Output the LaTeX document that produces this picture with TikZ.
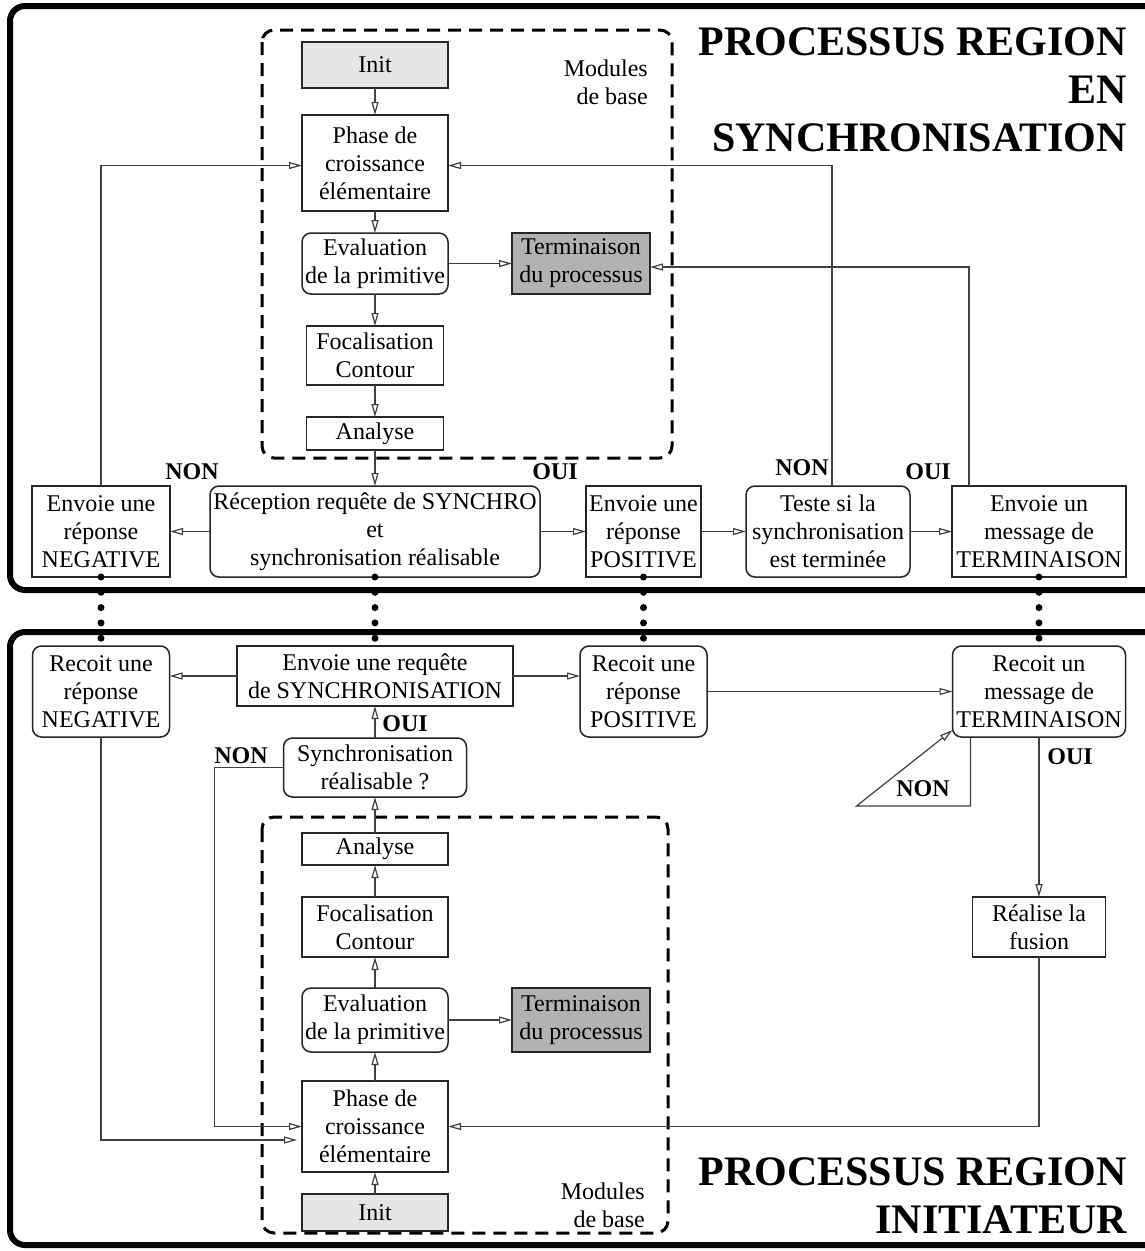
\documentclass[tikz,border=0pt]{standalone}
\usepackage{fontspec}
\setmainfont{Liberation Serif}
\usetikzlibrary{positioning, arrows.meta}
\tikzset{
    caja/.style={rectangle, draw=black!85, line width=1.5pt, align=center, inner sep=1pt, outer sep=0pt, minimum width=146pt, font=\fontsize{24}{28}\selectfont},
    caja_red/.style={caja, rounded corners=9pt},
    caja_init/.style={caja, fill=gray!20},
    caja_fin/.style={caja, fill=black!30, minimum width=138pt},
    marco/.style={line width=6pt, rounded corners=15pt},
    zona/.style={line width=3pt, dash pattern=on 13pt off 8pt, rounded corners=12pt},
    flecha/.style={draw=black!75, line width=1.2pt, -{Triangle[open, length=13pt, width=7pt]}},
    enlace/.style={line width=7pt, line cap=round, dash pattern=on 0pt off 15.3pt},
    etiqueta/.style={font=\bfseries\fontsize{24}{28}\selectfont, inner sep=0pt},
    titulo/.style={font=\bfseries\fontsize{42}{48}\selectfont, align=right, inner sep=0pt, anchor=north east},
    nota/.style={font=\fontsize{24}{28}\selectfont, align=right, inner sep=0pt, anchor=north east}
}
\begin{document}
\begin{tikzpicture}[x=1pt, y=-1pt]
    \useasboundingbox (0,0) rectangle (1145,1251);
    \fill[white] (0,0) rectangle (1145,1251);
    \clip (0,0) rectangle (1145,1251);

    % Cadres des deux processus
    \draw[marco] (10,6) rectangle (1175,590);
    \draw[marco] (10,632) rectangle (1175,1245);
    % Modules de base (pointilles)
    \draw[zona] (262,30) rectangle (672,458);
    \draw[zona] (262,817) rectangle (668,1233);

    % Titres
    \node[titulo] (titre_sync) at (1127,27) {PROCESSUS REGION\\EN\\SYNCHRONISATION};
    \node[titulo] (titre_init) at (1127,1157) {PROCESSUS REGION\\INITIATEUR};
    \node[nota] (mod_sync) at (648,59.5) {Modules\\de base};
    \node[nota] (mod_init) at (645,1182.5) {Modules\\de base};

    % 1. Processus region en synchronisation
    \node[caja_init, minimum height=46pt] (init1) at (375,65) {Init};
    \node[caja, minimum height=96pt, below=27pt of init1] (phase1) {Phase de\\croissance\\élémentaire};
    \node[caja_red, minimum height=61pt, below=22pt of phase1] (eval1) {Evaluation\\de la primitive};
    \node[caja_fin, minimum height=61pt, right=64pt of eval1] (term1) {Terminaison\\du processus};
    \node[caja, minimum width=137pt, minimum height=59pt, below=32pt of eval1] (foc1) {Focalisation\\Contour};
    \node[caja, minimum width=137pt, minimum height=33pt, below=32pt of foc1] (ana1) {Analyse};

    % Rangee du milieu
    \node[caja_red, minimum width=330pt, minimum height=91pt] (recep) at (375,531.5) {Réception requête de SYNCHRO\\et\\synchronisation réalisable};
    \node[caja, minimum width=138pt, minimum height=91pt, left=40pt of recep] (negS) {Envoie une\\réponse\\NEGATIVE};
    \node[caja, minimum width=115pt, minimum height=91pt, right=46pt of recep] (posS) {Envoie une\\réponse\\POSITIVE};
    \node[caja_red, minimum width=164pt, minimum height=91pt, right=45pt of posS] (teste) {Teste si la\\synchronisation\\est terminée};
    \node[caja, minimum width=174pt, minimum height=91pt, right=42pt of teste] (termS) {Envoie un\\message de\\TERMINAISON};

    % 2. Processus region initiateur
    \node[caja_red, minimum width=137pt, minimum height=91pt, below=69pt of negS] (negR) {Recoit une\\réponse\\NEGATIVE};
    \node[caja_red, minimum width=127pt, minimum height=91pt, below=69pt of posS] (posR) {Recoit une\\réponse\\POSITIVE};
    \node[caja_red, minimum width=173pt, minimum height=91pt, below=69pt of termS] (termR) {Recoit un\\message de\\TERMINAISON};
    \node[caja, minimum width=133pt, minimum height=60pt, below=160pt of termR] (fusion) {Réalise la\\fusion};

    \node[caja_init, minimum height=37pt] (init2) at (375,1212.5) {Init};
    \node[caja, minimum height=91pt, above=22pt of init2] (phase2) {Phase de\\croissance\\élémentaire};
    \node[caja_red, minimum height=64pt, above=29pt of phase2] (eval2) {Evaluation\\de la primitive};
    \node[caja_fin, minimum height=64pt, right=64pt of eval2] (term2) {Terminaison\\du processus};
    \node[caja, minimum height=60pt, above=31pt of eval2] (foc2) {Focalisation\\Contour};
    \node[caja, minimum height=32pt, above=32pt of foc2] (ana2) {Analyse};
    \node[caja_red, minimum width=183pt, minimum height=59pt, above=36pt of ana2] (sync) {Synchronisation\\réalisable ?};
    \node[caja, minimum width=276pt, minimum height=60pt, above=32pt of sync] (envReq) {Envoie une requête\\de SYNCHRONISATION};

    % Etiquettes
    \node[etiqueta] (non1) at (192,472) {NON};
    \node[etiqueta] (oui1) at (555,472) {OUI};
    \node[etiqueta] (non2) at (802,468) {NON};
    \node[etiqueta] (oui2) at (928,472) {OUI};
    \node[etiqueta] (oui3) at (405,724) {OUI};
    \node[etiqueta] (non3) at (241,756) {NON};
    \node[etiqueta] (oui4) at (1070,757) {OUI};
    \node[etiqueta] (non4) at (923,789) {NON};

    % --- CONNEXIONS (haut) ---
    \draw[flecha] (init1) -- (phase1);
    \draw[flecha] (phase1) -- (eval1);
    \draw[flecha] (eval1) -- (foc1);
    \draw[flecha] (foc1) -- (ana1);
    \draw[flecha] (eval1) -- (term1);
    \draw[flecha] (ana1.south) -- (recep.north);
    \draw[flecha] (recep) -- (negS);
    \draw[flecha] (recep) -- (posS);
    \draw[flecha] (posS) -- (teste);
    \draw[flecha] (teste) -- (termS);
    \draw[flecha] (negS.north) |- ([yshift=-2.5pt]phase1.west);
    \draw[flecha] ([xshift=4pt]teste.north) |- ([yshift=-2.5pt]phase1.east);
    \draw[flecha] ([xshift=17pt]termS.north west) |- ([yshift=-3.5pt]term1.east);

    % --- CONNEXIONS (bas) ---
    \draw[flecha] (init2) -- (phase2);
    \draw[flecha] (phase2) -- (eval2);
    \draw[flecha] (eval2) -- (foc2);
    \draw[flecha] (foc2) -- (ana2);
    \draw[flecha] (ana2) -- (sync);
    \draw[flecha] (sync) -- (envReq);
    \draw[flecha] (eval2) -- (term2);
    \draw[flecha] (envReq.west) -- (envReq.west -| negR.east);
    \draw[flecha] (envReq.east) -- (envReq.east -| posR.west);
    \draw[flecha] (posR) -- (termR);
    \draw[flecha] (termR) -- (fusion);
    \draw[flecha] (fusion.south) |- (phase2.east);
    \draw[flecha] (sync.west) -- ++(-69,0) |- (phase2.west);
    \draw[flecha, shorten >=5pt] (negR.south) |- ([yshift=-13.5pt]phase2.west);
    \draw[flecha] ([xshift=18pt]termR.south west) -- ++(0,69) -- ++(-114,0) -- ([yshift=7pt]termR.south west);

    % Liens entre les deux processus
    \draw[enlace] (negS.south) -- (negR.north);
    \draw[enlace] (recep.south) -- (envReq.north);
    \draw[enlace] (posS.south) -- (posR.north);
    \draw[enlace] (termS.south) -- (termR.north);
\end{tikzpicture}
\end{document}
